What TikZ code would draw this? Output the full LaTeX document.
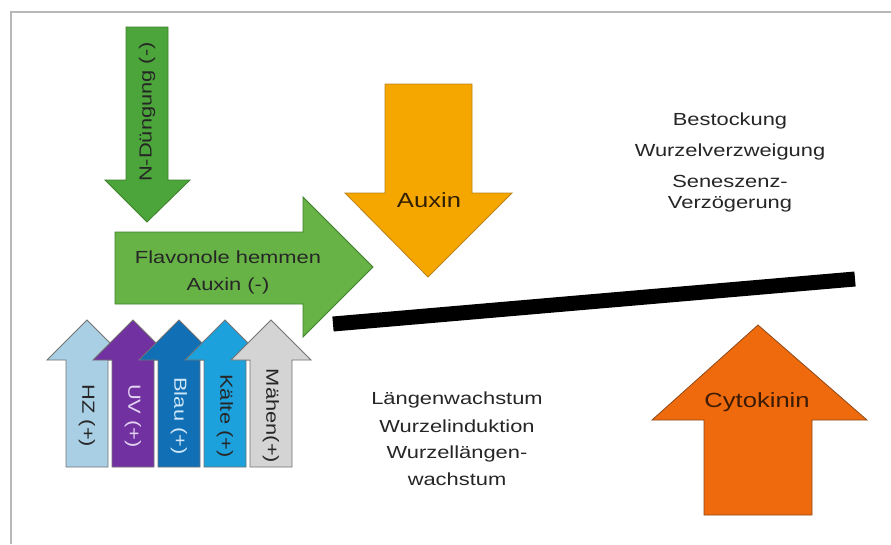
\documentclass[tikz,border=0pt]{standalone}
\usepackage{fontspec}
\setmainfont{Liberation Sans}[FakeStretch=1.25]
\usepackage{tikz}
\usetikzlibrary{positioning}

\definecolor{framegray}{HTML}{B8B8B8}
\definecolor{ngreen}{HTML}{4CA53A}
\definecolor{fgreen}{HTML}{67B346}
\definecolor{gborder}{HTML}{3E7F2A}
\definecolor{auxinor}{HTML}{F5A700}
\definecolor{auxinbd}{HTML}{B9821A}
\definecolor{cytoor}{HTML}{EE6A0C}
\definecolor{cytobd}{HTML}{8E4A1C}
\definecolor{hzblue}{HTML}{A9CFE5}
\definecolor{uvpurple}{HTML}{7231A0}
\definecolor{blaublue}{HTML}{106FB5}
\definecolor{kaeltblue}{HTML}{1DA1DC}
\definecolor{maehgray}{HTML}{D4D4D4}
\definecolor{uvtext}{HTML}{E2D2F2}
\definecolor{blautext}{HTML}{CFE7F8}

\begin{document}
\begin{tikzpicture}[x=1pt,y=-1pt,
    txt/.style={font=\fontsize{17.5}{21}\selectfont, text=black!85, inner sep=0pt, anchor=base},
    hormone/.style={font=\fontsize{20.5}{24}\selectfont, inner sep=0pt, anchor=base},
    blockfill/.style={line width=0.8pt, line join=miter}]

    \useasboundingbox[fill=white] (0,0) rectangle (891,544);
    \draw[framegray, line width=1.5pt] (11,544) -- (11,12) -- (891,12);

    % N-Duengung
    \draw[blockfill, fill=ngreen, draw=gborder] (126,27) -- (168,27) -- (168,180) -- (190,180)
        -- (147,222) -- (105,180) -- (126,180) -- cycle;
    \node[txt, anchor=center, rotate=90] (ndung) at (147,112) {N-Düngung (-)};

    % Flavonole
    \draw[blockfill, fill=fgreen, draw=gborder] (115,232) -- (303,232) -- (303,197) -- (373,267)
        -- (303,337) -- (303,304) -- (115,304) -- cycle;
    \node[txt] (flav1) at (228,263) {Flavonole hemmen};
    \node[txt] (flav2) at (228,290) {Auxin (-)};

    % Auxin
    \draw[blockfill, fill=auxinor, draw=auxinbd] (385,84) -- (472,84) -- (472,193) -- (512,193)
        -- (428,277) -- (345,193) -- (385,193) -- cycle;
    \node[hormone, text=black!80!auxinor] (auxin) at (429,207) {Auxin};

    % Cytokinin
    \draw[blockfill, fill=cytoor, draw=cytobd] (704,515) -- (812,515) -- (812,420) -- (867,420)
        -- (758,325) -- (652,420) -- (704,420) -- cycle;
    \node[hormone, text=black!75!cytoor] (cyto) at (757,407) {Cytokinin};

    % small arrows
    \foreach \c/\col/\tc/\nm/\txt in {87/hzblue/black!85/hz/HZ (+), 133/uvpurple/uvtext/uv/UV (+),
        179/blaublue/blautext/blau/Blau (+), 225/kaeltblue/black!85/kaelte/Kälte (+),
        271/maehgray/black!85/maehen/Mähen(+)}{
        \draw[blockfill, fill=\col, draw=black!55] ({\c-21},467) -- ({\c-21},360) -- ({\c-40},360)
            -- (\c,320) -- ({\c+40},360) -- ({\c+21},360) -- ({\c+21},467) -- cycle;
        \node[txt, anchor=center, rotate=-90, text=\tc] (\nm) at (\c,416) {\txt};
    }

    % bar
    \coordinate (barL) at (333,324);
    \coordinate (barR) at (855,279);
    \draw[line width=15pt] (barL) -- (barR);

    % effects
    \node[txt] (bestock) at (730,125) {Bestockung};
    \node[txt] (verzw) at (730,156) {Wurzelverzweigung};
    \node[txt] (senes1) at (730,187) {Seneszenz-};
    \node[txt] (senes2) at (730,208) {Verzögerung};

    \node[txt] (laengen) at (457,404) {Längenwachstum};
    \node[txt] (induk) at (457,432) {Wurzelinduktion};
    \node[txt] (wlaeng1) at (457,458) {Wurzellängen-};
    \node[txt] (wlaeng2) at (457,485) {wachstum};
\end{tikzpicture}
\end{document}
